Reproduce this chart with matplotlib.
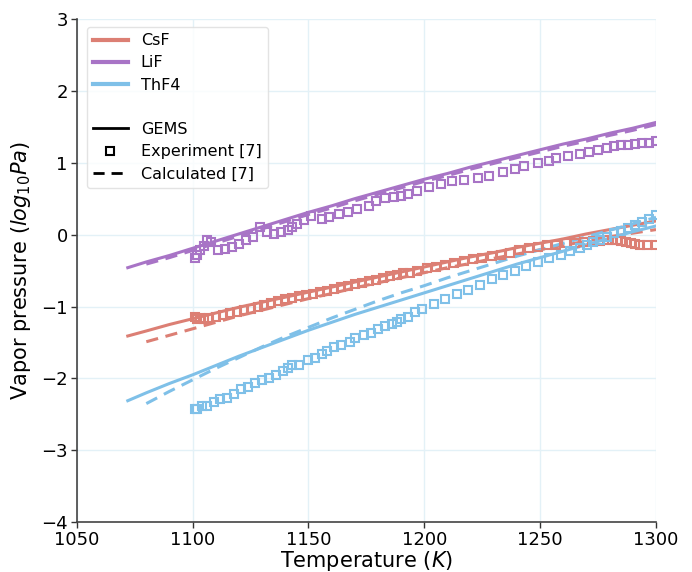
import matplotlib
matplotlib.use("Agg")
import matplotlib.pyplot as plt
from matplotlib.lines import Line2D

# ---------------- data ----------------
T_line = [1072, 1080, 1090, 1100, 1110, 1120, 1130, 1140, 1150, 1160, 1170, 1180,
          1190, 1200, 1210, 1220, 1230, 1240, 1250, 1260, 1270, 1280, 1290, 1300]
T_calc = T_line[1:]

csf_gems = [-1.41, -1.34, -1.25, -1.17, -1.09, -1.01, -0.94, -0.87, -0.80, -0.73, -0.66, -0.59,
            -0.52, -0.45, -0.38, -0.31, -0.25, -0.18, -0.12, -0.06, 0.01, 0.07, 0.13, 0.19]
lif_gems = [-0.46, -0.38, -0.29, -0.19, -0.09, 0.01, 0.11, 0.21, 0.31, 0.40, 0.50, 0.59,
            0.68, 0.77, 0.85, 0.94, 1.02, 1.10, 1.18, 1.26, 1.33, 1.41, 1.48, 1.56]
thf4_gems = [-2.31, -2.20, -2.07, -1.95, -1.82, -1.69, -1.57, -1.45, -1.33, -1.22, -1.11, -1.01,
             -0.91, -0.81, -0.71, -0.61, -0.51, -0.41, -0.32, -0.23, -0.14, -0.05, 0.04, 0.12]

csf_calc = [-1.49, -1.40, -1.31, -1.22, -1.13, -1.05, -0.97, -0.89, -0.82, -0.74, -0.67,
            -0.60, -0.53, -0.46, -0.40, -0.33, -0.27, -0.21, -0.15, -0.09, -0.03, 0.02, 0.07]
lif_calc = [-0.41, -0.32, -0.22, -0.12, -0.02, 0.08, 0.18, 0.28, 0.37, 0.47, 0.56,
            0.65, 0.74, 0.82, 0.91, 0.99, 1.07, 1.15, 1.23, 1.30, 1.38, 1.45, 1.53]
thf4_calc = [-2.35, -2.18, -2.02, -1.86, -1.71, -1.56, -1.42, -1.29, -1.16, -1.04, -0.92,
             -0.81, -0.71, -0.60, -0.50, -0.40, -0.30, -0.21, -0.12, -0.03, 0.06, 0.15, 0.24]

csf_exp_T = [1101, 1102, 1103, 1105, 1107, 1110, 1113, 1116, 1119, 1122, 1125, 1128, 1131, 1134,
             1137, 1140, 1143, 1146, 1149, 1152, 1155, 1158, 1161, 1164, 1167, 1170, 1173, 1176,
             1179, 1182, 1185, 1188, 1191, 1194, 1197, 1201, 1205, 1209, 1213, 1217, 1221, 1225,
             1229, 1233, 1237, 1241, 1245, 1249, 1253, 1257, 1261, 1265, 1269, 1273, 1276, 1279,
             1281, 1283, 1285, 1287, 1289, 1291, 1293, 1296, 1300]
csf_exp = [-1.15, -1.17, -1.16, -1.17, -1.16, -1.14, -1.12, -1.09, -1.07, -1.05, -1.03, -1.00,
           -0.98, -0.95, -0.92, -0.90, -0.88, -0.86, -0.84, -0.83, -0.80, -0.78, -0.76, -0.73,
           -0.71, -0.69, -0.67, -0.65, -0.63, -0.60, -0.58, -0.56, -0.54, -0.53, -0.51, -0.47,
           -0.45, -0.42, -0.40, -0.37, -0.34, -0.32, -0.30, -0.28, -0.25, -0.22, -0.19, -0.17,
           -0.15, -0.14, -0.12, -0.11, -0.10, -0.09, -0.09, -0.08, -0.08, -0.08, -0.09, -0.10,
           -0.12, -0.13, -0.14, -0.14, -0.14]

lif_exp_T = [1101, 1102, 1103, 1105, 1106, 1108, 1111, 1114, 1117, 1120, 1123, 1126, 1129, 1132,
             1135, 1138, 1141, 1143, 1145, 1148, 1151, 1156, 1159, 1163, 1167, 1171, 1176, 1179,
             1183, 1187, 1190, 1193, 1197, 1202, 1207, 1212, 1217, 1223, 1228, 1234, 1239, 1243,
             1249, 1254, 1257, 1262, 1267, 1271, 1275, 1279, 1282, 1285, 1288, 1291, 1294, 1297,
             1300]
lif_exp = [-0.32, -0.28, -0.21, -0.16, -0.07, -0.10, -0.22, -0.20, -0.17, -0.13, -0.08, -0.03,
           0.10, 0.04, 0.01, 0.03, 0.07, 0.11, 0.15, 0.20, 0.26, 0.22, 0.25, 0.28, 0.31, 0.35,
           0.40, 0.47, 0.51, 0.52, 0.53, 0.56, 0.61, 0.66, 0.70, 0.74, 0.76, 0.79, 0.82, 0.87,
           0.91, 0.95, 0.99, 1.03, 1.06, 1.09, 1.12, 1.15, 1.18, 1.21, 1.23, 1.24, 1.25, 1.26,
           1.27, 1.28, 1.30]

thf4_exp_T = [1101, 1102, 1104, 1106, 1109, 1112, 1115, 1118, 1121, 1124, 1127, 1130, 1133, 1136,
              1139, 1141, 1143, 1146, 1150, 1153, 1156, 1158, 1161, 1164, 1168, 1170, 1174, 1177,
              1180, 1183, 1186, 1188, 1190, 1193, 1196, 1199, 1204, 1209, 1214, 1219, 1224, 1229,
              1234, 1239, 1244, 1249, 1254, 1259, 1263, 1267, 1270, 1273, 1276, 1279, 1282, 1285,
              1288, 1291, 1294, 1297, 1300]
thf4_exp = [-2.43, -2.42, -2.39, -2.38, -2.33, -2.29, -2.27, -2.22, -2.15, -2.12, -2.07, -2.02,
            -1.99, -1.95, -1.90, -1.86, -1.82, -1.81, -1.75, -1.71, -1.66, -1.62, -1.57, -1.53,
            -1.49, -1.44, -1.40, -1.37, -1.31, -1.27, -1.24, -1.21, -1.18, -1.14, -1.07, -1.04,
            -0.97, -0.90, -0.83, -0.77, -0.70, -0.62, -0.56, -0.50, -0.44, -0.38, -0.33, -0.28,
            -0.23, -0.18, -0.14, -0.10, -0.07, -0.03, 0.02, 0.05, 0.09, 0.13, 0.17, 0.22, 0.27]

species = ["CsF", "LiF", "ThF4"]
colors = ["#dc7f74", "#a874c6", "#7fc0e8"]
x_ticks = [1050, 1100, 1150, 1200, 1250, 1300]
y_ticks = [-4, -3, -2, -1, 0, 1, 2, 3]

# ---------------- plot ----------------
fig = plt.figure(figsize=(6.92, 5.72), dpi=100)
ax = fig.add_axes([0.111, 0.087, 0.837, 0.88])

gems = [csf_gems, lif_gems, thf4_gems]
calc = [csf_calc, lif_calc, thf4_calc]
expT = [csf_exp_T, lif_exp_T, thf4_exp_T]
expV = [csf_exp, lif_exp, thf4_exp]

for c, g, cl, et, ev in zip(colors, gems, calc, expT, expV):
    ax.plot(T_line, g, color=c, lw=2.2, zorder=3)
    ax.plot(T_calc, cl, color=c, lw=2.2, ls=(0, (4, 2.5)), zorder=3)
    ax.plot(et, ev, ls="none", marker="s", ms=6, mfc="none", mec=c, mew=1.5, zorder=4)

ax.set_xlim(1050, 1300)
ax.set_ylim(-4, 3)
ax.set_xticks(x_ticks)
ax.set_yticks(y_ticks)
ax.tick_params(labelsize=13, length=4, width=1, color="#333333", pad=2.5)
ax.grid(True, color="#e3f1f7", lw=1)
ax.set_axisbelow(True)
for s in ["top", "right"]:
    ax.spines[s].set_visible(False)
for s in ["left", "bottom"]:
    ax.spines[s].set_color("#444444")
    ax.spines[s].set_linewidth(1.2)

ax.set_xlabel("Temperature ($K$)", fontsize=15, labelpad=0)
ax.set_ylabel("Vapor pressure ($log_{10}Pa$)", fontsize=15, labelpad=6)

handles = [Line2D([], [], color=c, lw=3) for c in colors]
handles.append(Line2D([], [], color="none"))
handles.append(Line2D([], [], color="black", lw=2))
handles.append(Line2D([], [], ls="none", marker="s", ms=6, mfc="none", mec="black", mew=1.5))
handles.append(Line2D([], [], color="black", lw=2, ls=(0, (4, 2.5))))
labels = species + ["", "GEMS", "Experiment [7]", "Calculated [7]"]
ax.legend(handles, labels, loc="upper left", fontsize=11.5, frameon=True,
          edgecolor="#dddddd", bbox_to_anchor=(0.003, 1.0), handlelength=2.2,
          labelspacing=0.45)

fig.savefig("out.png", dpi=100)
